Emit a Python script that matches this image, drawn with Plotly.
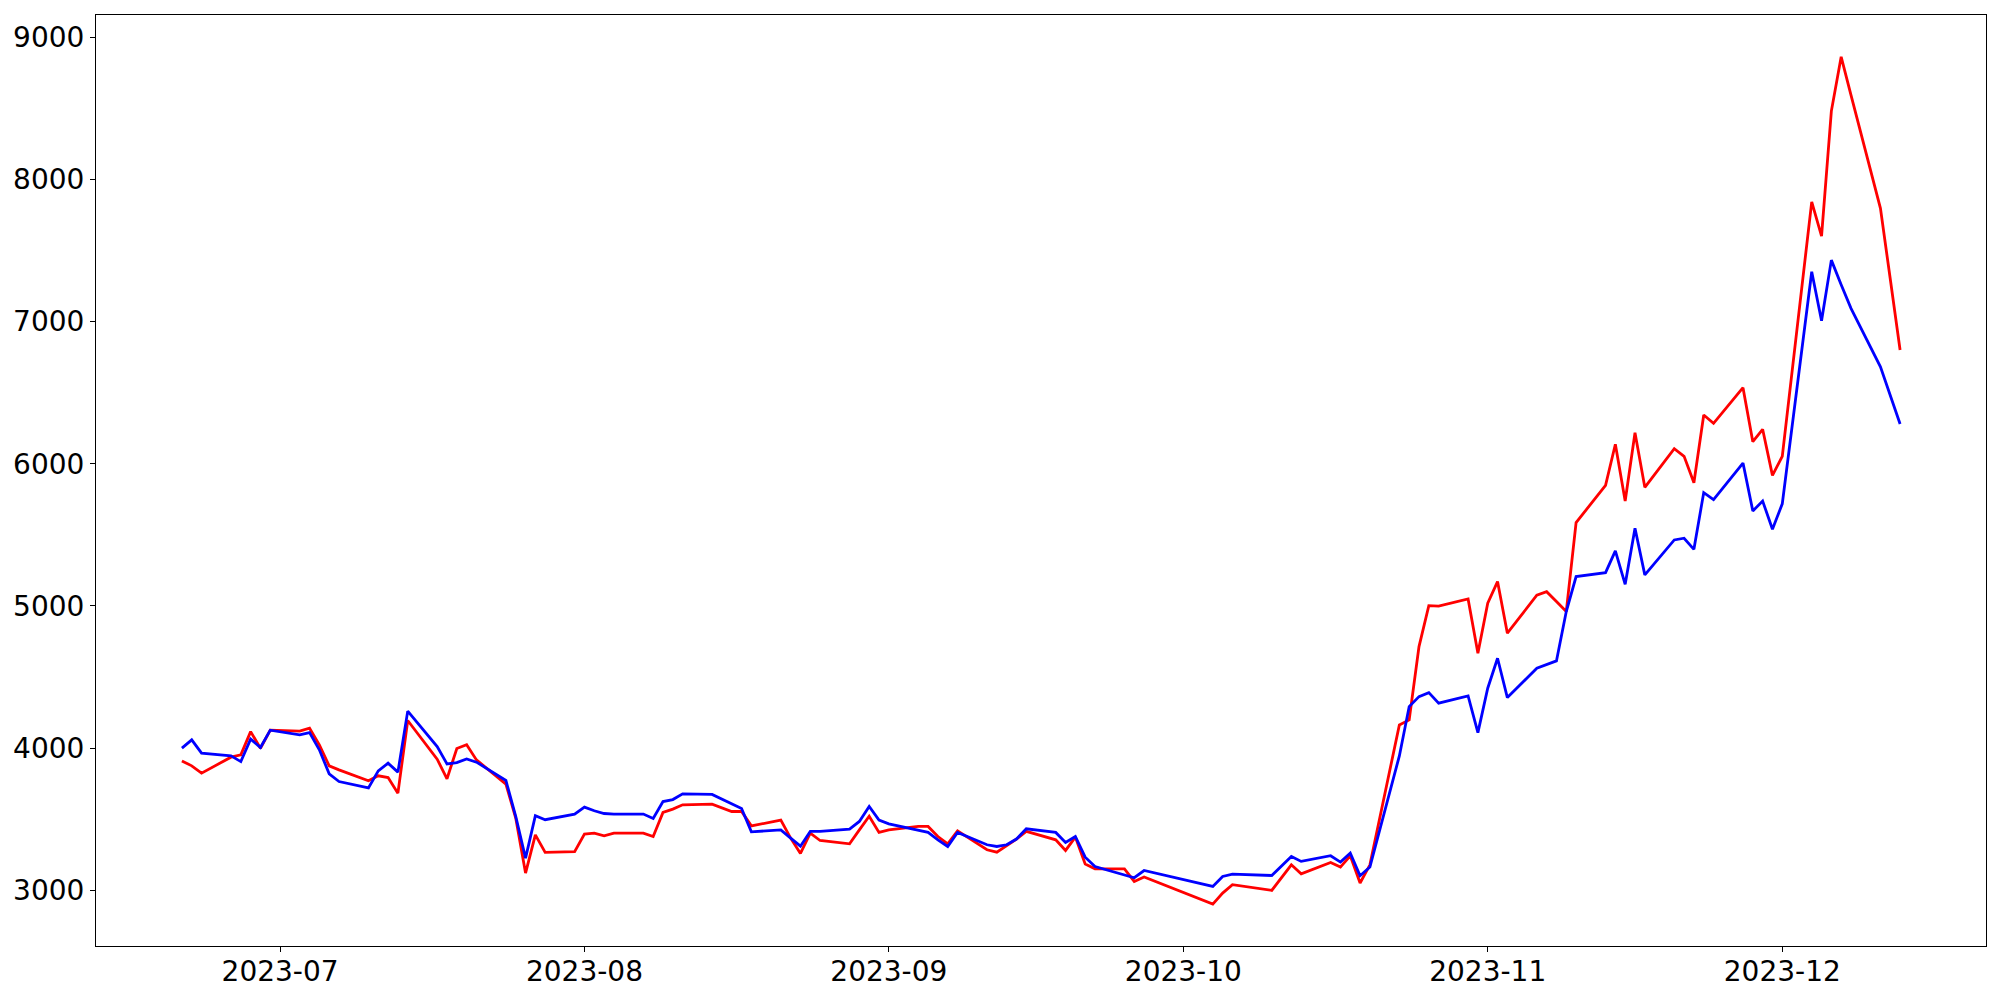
import plotly.graph_objects as go

# trading days
dates = [
    "2023-06-21", "2023-06-22", "2023-06-23", "2023-06-26", "2023-06-27", "2023-06-28", "2023-06-29", "2023-06-30",
    "2023-07-03", "2023-07-04", "2023-07-05", "2023-07-06", "2023-07-07", "2023-07-10", "2023-07-11", "2023-07-12",
    "2023-07-13", "2023-07-14", "2023-07-17", "2023-07-18", "2023-07-19", "2023-07-20", "2023-07-21", "2023-07-24",
    "2023-07-25", "2023-07-26", "2023-07-27", "2023-07-28", "2023-07-31", "2023-08-01", "2023-08-02", "2023-08-03",
    "2023-08-04", "2023-08-07", "2023-08-08", "2023-08-09", "2023-08-10", "2023-08-11", "2023-08-14", "2023-08-15",
    "2023-08-16", "2023-08-17", "2023-08-18", "2023-08-21", "2023-08-22", "2023-08-23", "2023-08-24", "2023-08-25",
    "2023-08-28", "2023-08-29", "2023-08-30", "2023-08-31", "2023-09-01", "2023-09-04", "2023-09-05", "2023-09-06",
    "2023-09-07", "2023-09-08", "2023-09-11", "2023-09-12", "2023-09-13", "2023-09-14", "2023-09-15", "2023-09-18",
    "2023-09-19", "2023-09-20", "2023-09-21", "2023-09-22", "2023-09-25", "2023-09-26", "2023-09-27", "2023-10-04",
    "2023-10-05", "2023-10-06", "2023-10-10", "2023-10-12", "2023-10-13", "2023-10-16", "2023-10-17", "2023-10-18",
    "2023-10-19", "2023-10-20", "2023-10-23", "2023-10-24", "2023-10-25", "2023-10-26", "2023-10-27", "2023-10-30",
    "2023-10-31", "2023-11-01", "2023-11-02", "2023-11-03", "2023-11-06", "2023-11-07", "2023-11-08", "2023-11-09",
    "2023-11-10", "2023-11-13", "2023-11-14", "2023-11-15", "2023-11-16", "2023-11-17", "2023-11-20", "2023-11-21",
    "2023-11-22", "2023-11-23", "2023-11-24", "2023-11-27", "2023-11-28", "2023-11-29", "2023-11-30", "2023-12-01",
    "2023-12-04", "2023-12-05", "2023-12-06", "2023-12-07", "2023-12-08", "2023-12-11", "2023-12-12", "2023-12-13",
]

red_values = [
    3910, 3875, 3824, 3936, 3953, 4116, 3999, 4126,
    4119, 4140, 4023, 3875, 3847, 3770, 3805, 3793,
    3683, 4194, 3922, 3784, 3997, 4023, 3917, 3747,
    3508, 3121, 3390, 3266, 3271, 3395, 3402, 3383,
    3402, 3402, 3378, 3547, 3571, 3601, 3606, 3580,
    3554, 3554, 3453, 3493, 3367, 3259, 3402, 3350,
    3327, 3425, 3521, 3407, 3425, 3449, 3449, 3378,
    3327, 3418, 3285, 3268, 3313, 3360, 3414, 3355,
    3280, 3374, 3184, 3151, 3151, 3062, 3093, 2903,
    2980, 3039, 2999, 3179, 3116, 3196, 3163, 3243,
    3051, 3179, 4163, 4198, 4714, 5002, 4998, 5049,
    4667, 5019, 5171, 4808, 5075, 5100, 5031, 4960,
    5586, 5848, 6137, 5738, 6218, 5834, 6106, 6052,
    5866, 6343, 6284, 6535, 6155, 6242, 5918, 6052,
    7842, 7601, 8480, 8862, 8592, 7796, 7299, 6800,
]

blue_values = [
    4000, 4058, 3964, 3945, 3905, 4063, 4004, 4126,
    4093, 4109, 3988, 3819, 3765, 3720, 3840, 3894,
    3831, 4260, 4011, 3889, 3898, 3924, 3901, 3772,
    3519, 3226, 3524, 3496, 3536, 3585, 3559, 3540,
    3536, 3536, 3505, 3624, 3638, 3678, 3674, 3641,
    3608, 3575, 3411, 3425, 3367, 3310, 3414, 3414,
    3430, 3484, 3589, 3493, 3467, 3425, 3407, 3355,
    3308, 3407, 3320, 3308, 3320, 3360, 3432, 3407,
    3336, 3378, 3233, 3167, 3109, 3088, 3139, 3027,
    3097, 3114, 3104, 3238, 3203, 3243, 3198, 3261,
    3102, 3163, 3945, 4292, 4362, 4390, 4316, 4367,
    4109, 4421, 4632, 4355, 4562, 4587, 4613, 4960,
    5206, 5234, 5387, 5152, 5546, 5218, 5464, 5476,
    5398, 5797, 5748, 6005, 5668, 5738, 5539, 5718,
    7350, 7006, 7432, 7259, 7093, 6682, 6481, 6279,
]

x_tickvals = ["2023-07-01", "2023-08-01", "2023-09-01", "2023-10-01", "2023-11-01", "2023-12-01"]
x_ticktext = ["2023-07", "2023-08", "2023-09", "2023-10", "2023-11", "2023-12"]
y_tickvals = [3000, 4000, 5000, 6000, 7000, 8000, 9000]

fig = go.Figure()
fig.add_trace(go.Scatter(
    x=dates, y=red_values, mode="lines",
    line=dict(color="#ff0000", width=2.8),
    name="red",
))
fig.add_trace(go.Scatter(
    x=dates, y=blue_values, mode="lines",
    line=dict(color="#0000ff", width=2.8),
    name="blue",
))

axis_style = dict(
    showgrid=False, zeroline=False, automargin=False,
    showline=True, mirror=True, linecolor="black", linewidth=1.1,
    ticks="outside", ticklen=5, tickwidth=1.1, tickcolor="black",
    tickfont=dict(family="DejaVu Sans", size=28, color="black"),
)

# page body adds an 8px offset, so the figure is sized 1984x984
fig.update_layout(
    width=1984, height=984,
    plot_bgcolor="white", paper_bgcolor="white",
    showlegend=False,
    margin=dict(l=88, r=6, t=7, b=46, pad=0),
    xaxis=dict(
        type="date",
        range=["2023-06-12 06:00", "2023-12-21 18:00"],
        tickvals=x_tickvals, ticktext=x_ticktext,
        ticklabelstandoff=-5,
        **axis_style,
    ),
    yaxis=dict(
        range=[2608, 9156],
        tickvals=y_tickvals,
        **axis_style,
    ),
)

fig.write_html("out.html")
